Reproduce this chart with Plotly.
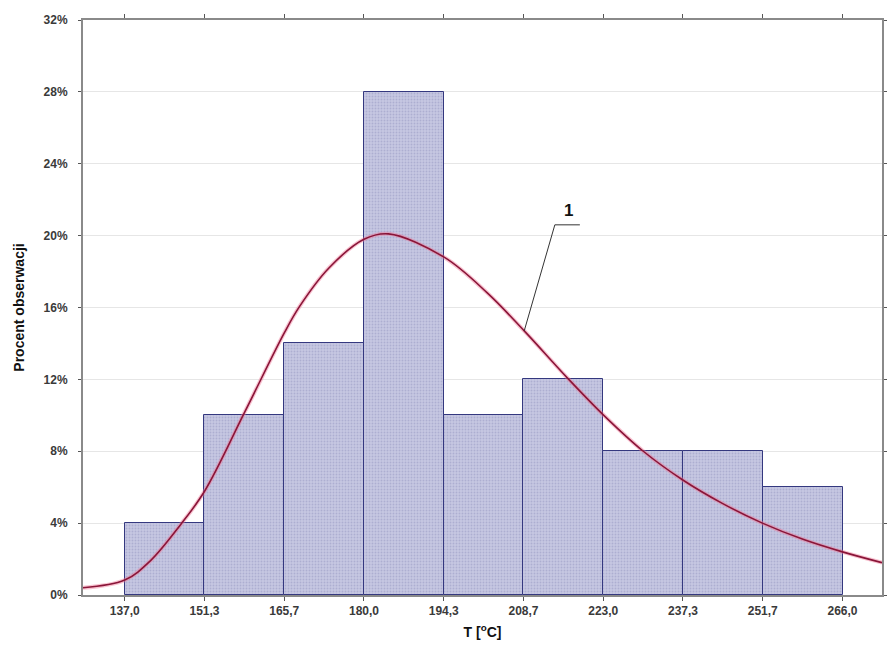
import plotly.graph_objects as go

# Bin edges (°C) and their tick labels
edges = [137.0, 151.333, 165.667, 180.0, 194.333, 208.667, 223.0, 237.333, 251.667, 266.0]
edge_labels = ["137,0", "151,3", "165,7", "180,0", "194,3", "208,7", "223,0", "237,3", "251,7", "266,0"]

# Share of observations in each bin (%)
percent = [4, 10, 14, 28, 10, 12, 8, 8, 6]

# Fitted distribution curve (1)
curve_t = [129.5, 137.0, 141.6, 147.0, 151.4, 158.6, 165.7, 168.4, 173.7, 180.0, 184.4,
           194.4, 202.2, 208.8, 216.5, 223.1, 230.2, 237.3, 244.4, 251.6, 258.9, 266.0, 273.1]
curve_p = [0.4, 0.83, 1.9, 3.9, 5.8, 10.2, 14.6, 16.05, 18.2, 19.8, 20.1,
           18.8, 16.8, 14.7, 12.1, 10.0, 8.0, 6.4, 5.1, 4.0, 3.1, 2.4, 1.8]

y_ticks = [0, 4, 8, 12, 16, 20, 24, 28, 32]
y_labels = [f"{v}%" for v in y_ticks]

centers = [(a + b) / 2 for a, b in zip(edges[:-1], edges[1:])]
widths = [b - a for a, b in zip(edges[:-1], edges[1:])]

font_family = "Arial, Liberation Sans, sans-serif"

fig = go.Figure()

fig.add_trace(go.Bar(
    x=centers, y=percent, width=widths,
    marker=dict(
        color="#c4c5e0",
        line=dict(color="#34387f", width=1),
        pattern=dict(shape=".", fgcolor="#9396c0", bgcolor="#c6c7e2", size=3, solidity=0.3),
    ),
    showlegend=False, hoverinfo="skip",
))

# soft halo under the curve
fig.add_trace(go.Scatter(
    x=curve_t, y=curve_p, mode="lines",
    line=dict(color="rgba(240,120,150,0.45)", width=4, shape="spline", smoothing=1.0),
    showlegend=False, hoverinfo="skip",
))
fig.add_trace(go.Scatter(
    x=curve_t, y=curve_p, mode="lines",
    line=dict(color="#8a1538", width=1.6, shape="spline", smoothing=1.0),
    showlegend=False, hoverinfo="skip",
))

# leader for curve label "1"
fig.add_shape(type="line", x0=208.8, y0=14.7, x1=214.3, y1=20.6,
              line=dict(color="#333", width=1), layer="above")
fig.add_shape(type="line", x0=214.3, y0=20.6, x1=218.8, y1=20.6,
              line=dict(color="#333", width=1), layer="above")
fig.add_annotation(x=216.8, y=20.75, text="1", showarrow=False, yanchor="bottom",
                   font=dict(family=font_family, size=17, color="#111", weight="bold"))

fig.update_layout(
    width=891, height=658,
    margin=dict(l=83, r=4, t=20, b=63),
    paper_bgcolor="white", plot_bgcolor="white",
    bargap=0,
    font=dict(family=font_family, color="#333"),
)

fig.update_xaxes(
    range=[129.5, 273.1],
    tickmode="array", tickvals=edges, ticktext=edge_labels,
    tickfont=dict(size=12, color="#3a3a3a", weight="bold"),
    ticks="outside", ticklen=4, tickcolor="#555",
    showgrid=False, zeroline=False,
    showline=True, linecolor="#8a8a8a", linewidth=2, mirror="ticks",
    title=dict(text="T [<sup>o</sup>C]", font=dict(size=14, color="#111", weight="bold"), standoff=10),
)
fig.update_yaxes(
    range=[0, 32],
    tickmode="array", tickvals=y_ticks, ticktext=y_labels,
    tickfont=dict(size=12, color="#3a3a3a", weight="bold"),
    ticks="outside", ticklen=3, tickcolor="#555", ticklabelstandoff=8,
    showgrid=True, gridcolor="#e6e6e6", gridwidth=1, zeroline=False,
    showline=True, linecolor="#8a8a8a", linewidth=2, mirror="ticks",
    title=dict(text="Procent obserwacji", font=dict(size=14, color="#111", weight="bold"), standoff=16),
)

fig.write_html("out.html")
